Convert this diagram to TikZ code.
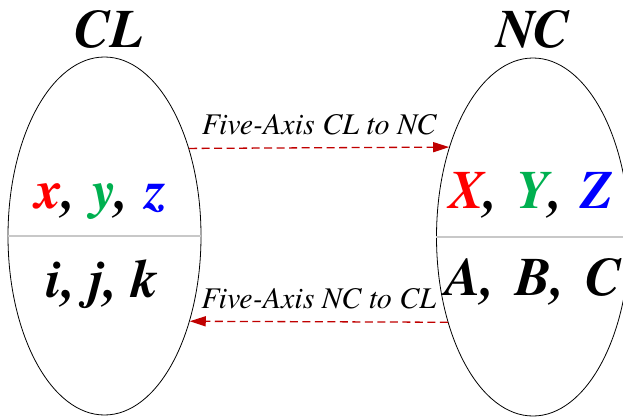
\documentclass[tikz,border=0pt]{standalone}
\usepackage{fontspec}
\setmainfont{TeX Gyre Termes}
\usetikzlibrary{shapes.geometric,arrows.meta}
\definecolor{arrowred}{RGB}{192,0,0}
\definecolor{ygreen}{RGB}{0,176,80}
\definecolor{zblue}{RGB}{0,0,255}
\definecolor{xred}{RGB}{255,0,0}
\definecolor{divgray}{RGB}{200,200,200}

\begin{document}
\begin{tikzpicture}[x=1pt,y=1pt,
  setbox/.style={draw=black,line width=0.8pt,ellipse,minimum width=193pt,minimum height=358pt,inner sep=0pt},
  divider/.style={draw=divgray,line width=1.5pt},
  bigtext/.style={font=\fontsize{54}{54}\selectfont\bfseries\itshape,anchor=base,inner sep=0pt},
  flow/.style={draw=arrowred,line width=1.3pt,dash pattern=on 8pt off 4.5pt,-{Triangle[length=16pt,width=10pt]}},
  flowlabel/.style={font=\fontsize{30}{30}\selectfont\itshape,above=12pt,inner sep=0pt}]

\clip (0,0) rectangle (623,416);

% the two sets
\node[setbox] (cl) at (104.5,180) {};
\node[setbox] (nc) at (533,179) {};

\draw[divider] (cl.west) -- (cl.east);
\draw[divider] (nc.west) -- (nc.east);

% titles
\node[bigtext] (cltitle) at (109,368) {CL};
\node[bigtext] (nctitle) at (533,368) {NC};

% coordinates
\node[bigtext] (clxyz) at (101,208) {{\color{xred}x},\hspace{0.3em}{\color{ygreen}y},\hspace{0.3em}{\color{zblue}z}};
\node[bigtext] (clijk) at (102.5,119) {i, j, k};
\node[bigtext] (ncxyz) at (531,208) {{\color{xred}X},\hspace{0.33em}{\color{ygreen}Y},\hspace{0.33em}{\color{zblue}Z}};
\node[bigtext] (ncabc) at (533.5,121) {A,\hspace{0.38em}B,\hspace{0.38em}C};

% conversions
\draw[flow] (cl.46.7) -- node[flowlabel] (tonc) {Five-Axis CL to NC} (nc.133.7);
\draw[flow] (nc.-135.3) -- node[flowlabel] (tocl) {Five-Axis NC to CL} (cl.-45.8);

\end{tikzpicture}
\end{document}
